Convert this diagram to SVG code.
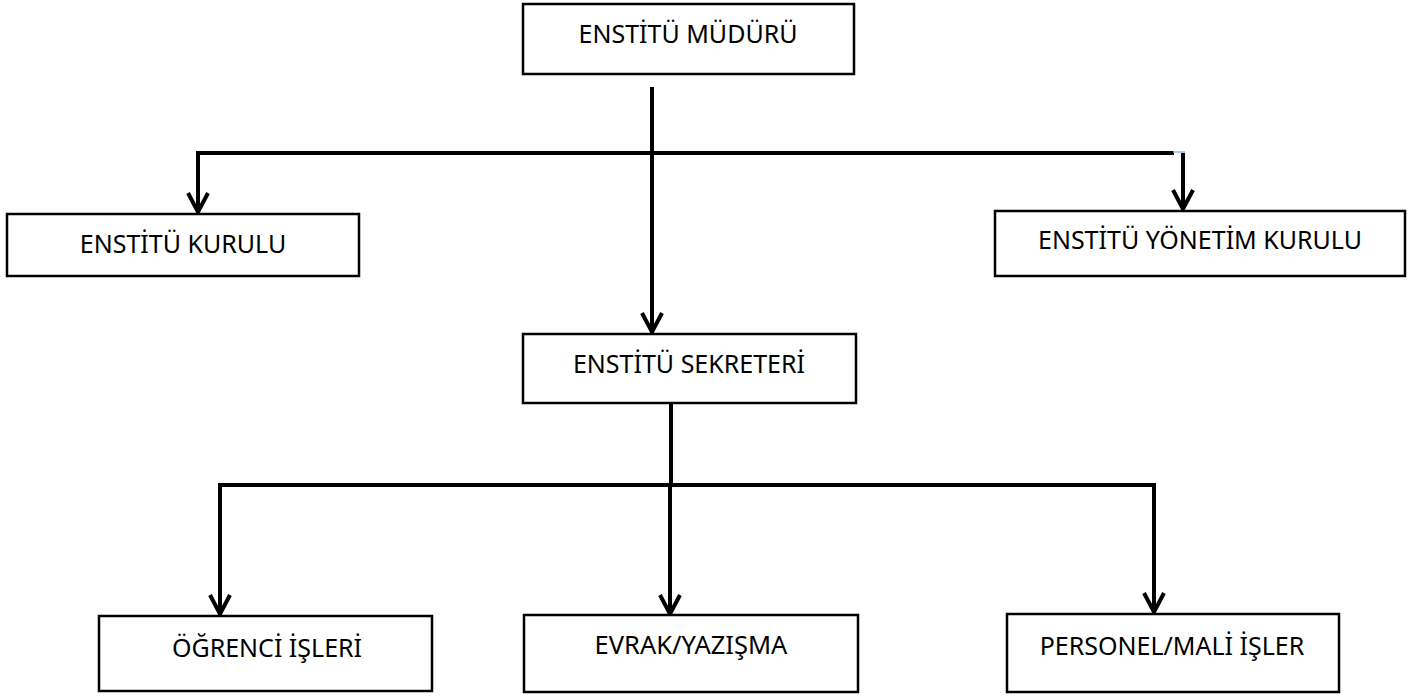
<svg xmlns="http://www.w3.org/2000/svg" width="1416" height="697" viewBox="0 0 1416 697">
  <style>
    .box { fill: #ffffff; stroke: #000000; stroke-width: 2.5; }
    .lbl { font-family: "Noto Sans", "Open Sans", sans-serif; font-size: 25px; fill: #000000; text-anchor: middle; }
    .con { fill: none; stroke: #000000; stroke-width: 4; }
  </style>
  <defs>
    <marker id="arrow" viewBox="-24 -14 28 28" markerWidth="28" markerHeight="28" refX="0" refY="0" orient="auto" markerUnits="userSpaceOnUse" overflow="visible">
      <path d="M -20 -10 L -1 0 L -20 10" fill="none" stroke="#000000" stroke-width="4" stroke-linejoin="miter"/>
    </marker>
  </defs>
  <rect width="1416" height="697" fill="#ffffff"/>

  <g id="connectors">
    <line class="con" x1="652" y1="87" x2="652" y2="333" marker-end="url(#arrow)"/>
    <line class="con" x1="198" y1="153" x2="1174" y2="153"/>
    <line x1="1173" y1="152" x2="1185" y2="152" stroke="#8fb4dc" stroke-width="1.5"/>
    <line class="con" x1="198" y1="151" x2="198" y2="213" marker-end="url(#arrow)"/>
    <line class="con" x1="1183" y1="153" x2="1183" y2="210" marker-end="url(#arrow)"/>
    <line class="con" x1="671" y1="403" x2="671" y2="485"/>
    <line class="con" x1="218" y1="485" x2="1156" y2="485"/>
    <line class="con" x1="220" y1="483" x2="220" y2="615" marker-end="url(#arrow)"/>
    <line class="con" x1="670" y1="485" x2="670" y2="615" marker-end="url(#arrow)"/>
    <line class="con" x1="1154" y1="483" x2="1154" y2="613" marker-end="url(#arrow)"/>
  </g>

  <g id="enstitu-muduru">
    <rect class="box" x="523" y="4" width="331" height="70"/>
    <text class="lbl" x="688" y="43">ENSTİTÜ MÜDÜRÜ</text>
  </g>

  <g id="enstitu-kurulu">
    <rect class="box" x="7" y="214" width="352" height="62"/>
    <text class="lbl" x="183" y="253">ENSTİTÜ KURULU</text>
  </g>

  <g id="enstitu-yonetim-kurulu">
    <rect class="box" x="995" y="211" width="410" height="65"/>
    <text class="lbl" x="1200" y="249">ENSTİTÜ YÖNETİM KURULU</text>
  </g>

  <g id="enstitu-sekreteri">
    <rect class="box" x="523" y="334" width="333" height="69"/>
    <text class="lbl" x="689" y="373">ENSTİTÜ SEKRETERİ</text>
  </g>

  <g id="ogrenci-isleri">
    <rect class="box" x="99" y="616" width="333" height="75"/>
    <text class="lbl" x="267" y="657">ÖĞRENCİ İŞLERİ</text>
  </g>

  <g id="evrak-yazisma">
    <rect class="box" x="524" y="615" width="334" height="77"/>
    <text class="lbl" x="691" y="654" style="font-size:25.5px">EVRAK/YAZIŞMA</text>
  </g>

  <g id="personel-mali-isler">
    <rect class="box" x="1007" y="614" width="332" height="78"/>
    <text class="lbl" x="1172" y="655">PERSONEL/MALİ İŞLER</text>
  </g>
</svg>
